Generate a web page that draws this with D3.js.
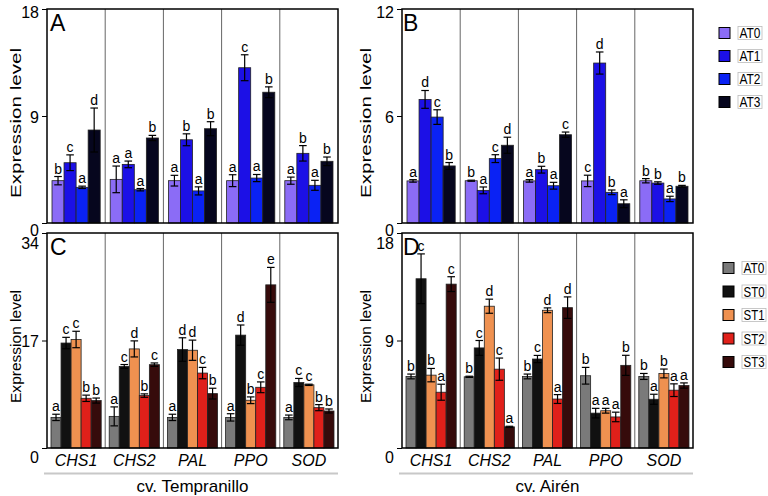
<!DOCTYPE html>
<html>
<head>
<meta charset="utf-8">
<script src="https://cdn.jsdelivr.net/npm/d3@7"></script>
<style>
  body { margin: 0; background: #fff; }
  svg { display: block; }
</style>
</head>
<body>
<svg id="chart" width="768" height="496"></svg>
<script>
// genes on the x axis, same for all four panels
var genes = ["CHS1", "CHS2", "PAL", "PPO", "SOD"];

// panels A and B (AT series)
var seriesAT = ["AT0", "AT1", "AT2", "AT3"];
var coloursAT = ["#8b6cf6", "#1c10e6", "#0a22f4", "#06061e"];

// panels C and D (ST series)
var seriesST = ["AT0", "ST0", "ST1", "ST2", "ST3"];
var coloursST = ["#7a7a7a", "#111111", "#ef9150", "#e0201a", "#360b0b"];

// A: cv. Tempranillo, AT treatments
var valuesA  = [[3.56, 5.07, 3.0, 7.82], [3.67, 4.93, 2.8, 7.15], [3.56, 7.0, 2.7, 7.93], [3.56, 13.06, 3.78, 11.0], [3.56, 5.86, 3.17, 5.19]];
var errorsA  = [[0.35, 0.66, 0.1, 1.85], [1.12, 0.28, 0.1, 0.22], [0.45, 0.5, 0.34, 0.59], [0.5, 1.09, 0.3, 0.45], [0.3, 0.65, 0.42, 0.36]];
var lettersA = [["b", "c", "a", "d"], ["a", "a", "a", "b"], ["a", "b", "a", "b"], ["a", "c", "a", "b"], ["a", "b", "a", "b"]];

// B: cv. Airén, AT treatments
var valuesB  = [[2.36, 6.93, 5.94, 3.2], [2.37, 1.83, 3.61, 4.36], [2.36, 2.99, 2.09, 4.95], [2.36, 8.97, 1.72, 1.08], [2.37, 2.24, 1.35, 2.06]];
var errorsB  = [[0.07, 0.5, 0.41, 0.19], [0.03, 0.19, 0.22, 0.45], [0.07, 0.19, 0.19, 0.15], [0.32, 0.62, 0.13, 0.22], [0.12, 0.07, 0.15, 0.05]];
var lettersB = [["a", "d", "c", "b"], ["b", "a", "c", "d"], ["a", "b", "a", "c"], ["c", "d", "b", "a"], ["b", "b", "a", "b"]];

// C: cv. Tempranillo, ST treatments
var valuesC  = [[4.84, 16.6, 17.16, 7.86, 7.5], [5.0, 12.9, 15.67, 8.29, 13.18], [4.84, 15.57, 15.46, 11.85, 8.6], [4.84, 17.85, 7.55, 9.6, 25.8], [4.84, 10.36, 9.99, 6.38, 5.85]];
var errorsC  = [[0.5, 0.9, 1.3, 0.5, 0.4], [1.5, 0.3, 1.27, 0.27, 0.27], [0.5, 1.86, 1.6, 0.9, 0.85], [0.58, 1.6, 0.53, 0.85, 2.76], [0.37, 0.64, 0.1, 0.48, 0.32]];
var lettersC = [["a", "c", "c", "b", "b"], ["a", "c", "d", "b", "c"], ["a", "d", "d", "c", "b"], ["a", "d", "b", "c", "e"], ["a", "c", "c", "b", "b"]];

// D: cv. Airén, ST treatments
var valuesD  = [[5.99, 14.17, 6.1, 4.67, 13.72], [5.96, 8.38, 11.87, 6.6, 1.77], [5.99, 7.45, 11.53, 4.1, 11.75], [6.05, 2.92, 3.12, 2.6, 6.92], [5.99, 4.08, 6.24, 4.84, 5.23]];
var errorsD  = [[0.2, 2.08, 0.56, 0.67, 0.62], [0.05, 0.62, 0.59, 0.93, 0.05], [0.2, 0.3, 0.2, 0.37, 0.9], [0.7, 0.4, 0.2, 0.4, 0.84], [0.25, 0.42, 0.37, 0.53, 0.22]];
var lettersD = [["b", "c", "b", "a", "c"], ["b", "c", "d", "c", "a"], ["b", "c", "d", "a", "d"], ["b", "a", "a", "a", "b"], ["b", "a", "b", "a", "a"]];

var cultivars = ["cv. Tempranillo", "cv. Airén"];

var font = "'Liberation Sans', Arial, Helvetica, sans-serif";
var svg = d3.select("#chart");

// layout of the four panels
var panels = [
  { label: "A", left: 47, right: 338, top: 9, bottom: 223, max: 18, series: seriesAT, colours: coloursAT,
    values: valuesA, errors: errorsA, letters: lettersA, pad: 5, titleX: 21, titleLen: 150, topDy: 3, zeroDy: 7, titleDy: 7 },
  { label: "B", left: 402, right: 693, top: 9, bottom: 223, max: 12, series: seriesAT, colours: coloursAT,
    values: valuesB, errors: errorsB, letters: lettersB, pad: 5, titleX: 371, titleLen: 150, topDy: 3, zeroDy: 7, titleDy: 7 },
  { label: "C", left: 47, right: 338, top: 233, bottom: 448, max: 34, series: seriesST, colours: coloursST,
    values: valuesC, errors: errorsC, letters: lettersC, pad: 4, titleX: 21, titleLen: 113, topDy: 10, zeroDy: 9, titleDy: 6,
    cultivar: cultivars[0] },
  { label: "D", left: 402, right: 693, top: 233, bottom: 448, max: 18, series: seriesST, colours: coloursST,
    values: valuesD, errors: errorsD, letters: lettersD, pad: 4, titleX: 371, titleLen: 113, topDy: 10, zeroDy: 9, titleDy: 6,
    cultivar: cultivars[1] }
];

function drawPanel(p) {
  var g = svg.append("g");

  var x = d3.scaleBand().domain(genes).range([p.left, p.right]);
  var xs = d3.scaleBand().domain(p.series).range([p.pad, x.bandwidth() - p.pad]);
  var y = d3.scaleLinear().domain([0, p.max]).range([p.bottom, p.top]);

  // separators between genes
  g.selectAll(".sep")
    .data(genes.slice(1))
    .enter().append("line")
    .attr("x1", function(d) { return x(d); })
    .attr("x2", function(d) { return x(d); })
    .attr("y1", p.top)
    .attr("y2", p.bottom)
    .attr("stroke", "#666")
    .attr("stroke-width", 1);

  // flatten bars
  var bars = [];
  genes.forEach(function(gene, i) {
    p.series.forEach(function(s, j) {
      bars.push({ gene: gene, s: s, j: j, v: p.values[i][j], e: p.errors[i][j], l: p.letters[i][j] });
    });
  });

  g.selectAll(".bar")
    .data(bars)
    .enter().append("rect")
    .attr("x", function(d) { return x(d.gene) + xs(d.s); })
    .attr("y", function(d) { return y(d.v); })
    .attr("width", xs.bandwidth())
    .attr("height", function(d) { return y(0) - y(d.v); })
    .attr("fill", function(d) { return p.colours[d.j]; })
    .attr("stroke", "#222")
    .attr("stroke-width", 0.8);

  // error bars
  var cap = 3.8;
  var err = g.selectAll(".err")
    .data(bars)
    .enter().append("g")
    .attr("stroke", "#000")
    .attr("stroke-width", 1.2);
  function cx(d) { return x(d.gene) + xs(d.s) + xs.bandwidth() / 2; }
  err.append("line")
    .attr("x1", cx).attr("x2", cx)
    .attr("y1", function(d) { return y(d.v - d.e); })
    .attr("y2", function(d) { return y(d.v + d.e); });
  err.append("line")
    .attr("x1", function(d) { return cx(d) - cap; })
    .attr("x2", function(d) { return cx(d) + cap; })
    .attr("y1", function(d) { return y(d.v + d.e); })
    .attr("y2", function(d) { return y(d.v + d.e); });
  err.append("line")
    .attr("x1", function(d) { return cx(d) - cap; })
    .attr("x2", function(d) { return cx(d) + cap; })
    .attr("y1", function(d) { return y(d.v - d.e); })
    .attr("y2", function(d) { return y(d.v - d.e); });

  // significance letters
  g.selectAll(".letter")
    .data(bars)
    .enter().append("text")
    .attr("x", cx)
    .attr("y", function(d) { return y(d.v + d.e) - 3; })
    .attr("text-anchor", "middle")
    .style("font-family", font)
    .style("font-size", "14px")
    .text(function(d) { return d.l; });

  // frame
  g.append("rect")
    .attr("x", p.left)
    .attr("y", p.top)
    .attr("width", p.right - p.left)
    .attr("height", p.bottom - p.top)
    .attr("fill", "none")
    .attr("stroke", "#000")
    .attr("stroke-width", 1.5);

  // y axis
  var ax = g.append("g")
    .attr("transform", "translate(" + p.left + ",0)")
    .call(d3.axisLeft(y).tickValues([0, p.max / 2, p.max]).tickSize(5).tickPadding(3).tickFormat(d3.format("d")));
  ax.select(".domain").remove();
  ax.selectAll("line").attr("stroke", "#000").attr("stroke-width", 1);
  ax.selectAll("text")
    .style("font-family", font)
    .style("font-size", "16px")
    .attr("fill", "#000")
    .attr("y", function(d) { return d === 0 ? p.zeroDy : (d === p.max ? p.topDy : 1); });

  // y title
  g.append("text")
    .attr("transform", "translate(" + p.titleX + "," + ((p.top + p.bottom) / 2 + p.titleDy) + ") rotate(-90)")
    .attr("text-anchor", "middle")
    .attr("textLength", p.titleLen)
    .attr("lengthAdjust", "spacingAndGlyphs")
    .style("font-family", font)
    .style("font-size", "15.5px")
    .text("Expression level");

  // panel letter
  g.append("text")
    .attr("x", p.left + (p.left < 100 ? 3 : 1))
    .attr("y", p.top + 22)
    .style("font-family", font)
    .style("font-size", "23px")
    .text(p.label);

  if (p.cultivar) {
    g.selectAll(".gene")
      .data(genes)
      .enter().append("text")
      .attr("x", function(d) { return x(d) + x.bandwidth() / 2; })
      .attr("y", p.bottom + 18)
      .attr("text-anchor", "middle")
      .style("font-family", font)
      .style("font-size", "16px")
      .style("font-style", "italic")
      .text(function(d) { return d; });

    g.append("line")
      .attr("x1", p.left - 3)
      .attr("x2", p.right)
      .attr("y1", p.bottom + 25.5)
      .attr("y2", p.bottom + 25.5)
      .attr("stroke", "#c8c8c8")
      .attr("stroke-width", 2);

    g.append("text")
      .attr("x", (p.left + p.right) / 2)
      .attr("y", p.bottom + 44)
      .attr("text-anchor", "middle")
      .style("font-family", font)
      .style("font-size", "17px")
      .text(p.cultivar);
  }
}

panels.forEach(drawPanel);

// legends
function drawLegend(series, colours, x0, y0, step) {
  var lg = svg.selectAll(null)
    .data(series)
    .enter().append("g")
    .attr("transform", function(d, i) { return "translate(" + x0 + "," + (y0 + i * step) + ")"; });

  lg.append("rect")
    .attr("x", 0).attr("y", -5.5)
    .attr("width", 11).attr("height", 11)
    .attr("fill", function(d, i) { return colours[i]; })
    .attr("stroke", "#000")
    .attr("stroke-width", 1);

  lg.append("rect")
    .attr("x", 19).attr("y", -6.5)
    .attr("width", 24).attr("height", 13)
    .attr("fill", "#fff")
    .attr("stroke", "#bbb")
    .attr("stroke-width", 0.8);

  lg.append("text")
    .attr("x", 20.5).attr("y", 5)
    .attr("textLength", 21)
    .attr("lengthAdjust", "spacingAndGlyphs")
    .style("font-family", font)
    .style("font-size", "14px")
    .text(function(d) { return d; });
}

drawLegend(seriesAT, coloursAT, 719, 33, 23);
drawLegend(seriesST, coloursST, 723, 268, 23.5);
</script>
</body>
</html>
